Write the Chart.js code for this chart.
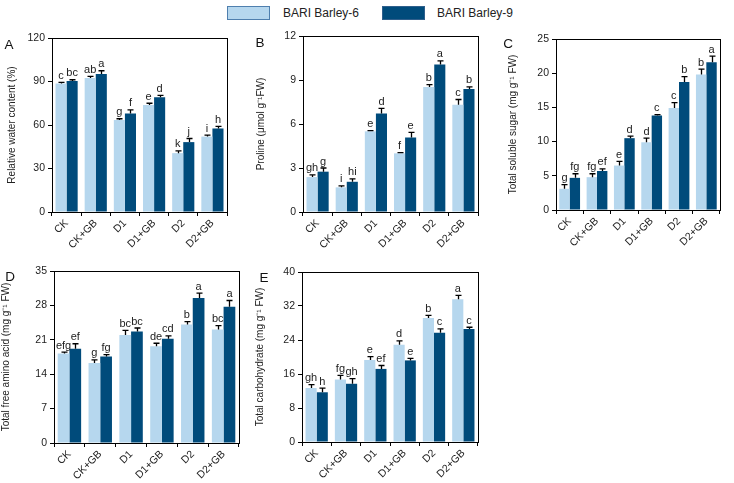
<!DOCTYPE html>
<html>
<head>
<meta charset="utf-8">
<script src="https://cdn.jsdelivr.net/npm/chart.js@4.4.1/dist/chart.umd.min.js"></script>
<style>
  body { margin: 0; background: #fff; width: 734px; height: 483px; position: relative; overflow: hidden;
         font-family: "Liberation Sans", Arial, sans-serif; }
  .panel { position: absolute; }
  .lgbox { position: absolute; height: 14px; width: 43px; box-sizing: border-box; }
  .lgtxt { position: absolute; font-size: 12px; color: #222; line-height: 14px; }
</style>
</head>
<body>

<div class="lgbox" style="left:227px; top:6px; background:#b6d7ee; border:1px solid #4f7fae;"></div>
<div class="lgtxt" style="left:283px; top:6px;">BARI Barley-6</div>
<div class="lgbox" style="left:382px; top:6px; background:#004b7b; border:1px solid #2f5f8c;"></div>
<div class="lgtxt" style="left:437px; top:6px;">BARI Barley-9</div>

<canvas id="cA" class="panel"></canvas>
<canvas id="cB" class="panel"></canvas>
<canvas id="cC" class="panel"></canvas>
<canvas id="cD" class="panel"></canvas>
<canvas id="cE" class="panel"></canvas>

<script>
// treatments and cultivars
const groups = ['CK', 'CK+GB', 'D1', 'D1+GB', 'D2', 'D2+GB'];
const cultivars = ['BARI Barley-6', 'BARI Barley-9'];

// A relative water content (%)
const rwcB6 = [88.6, 92.4, 63.5, 73.8, 40.6, 52.0];
const rwcB9 = [90.4, 95.2, 68.0, 79.2, 48.2, 57.6];
const rwcErrB6 = [0.8, 1.2, 0.8, 1.2, 1.5, 1.0];
const rwcErrB9 = [0.8, 2.2, 2.5, 1.2, 2.5, 1.5];
const rwcLetB6 = ['c', 'ab', 'g', 'e', 'k', 'i'];
const rwcLetB9 = ['bc', 'a', 'f', 'd', 'j', 'h'];

// B proline
const proB6 = [2.38, 1.68, 5.5, 4.0, 8.53, 7.32];
const proB9 = [2.75, 2.06, 6.72, 5.08, 10.05, 8.38];
const proErrB6 = [0.15, 0.1, 0.05, 0.05, 0.15, 0.35];
const proErrB9 = [0.25, 0.2, 0.35, 0.35, 0.25, 0.15];
const proLetB6 = ['gh', 'i', 'e', 'f', 'b', 'c'];
const proLetB9 = ['g', 'hi', 'd', 'e', 'a', 'b'];

// C total soluble sugar
const sugB6 = [3.1, 4.8, 6.5, 9.9, 14.9, 19.8];
const sugB9 = [4.7, 5.7, 10.5, 13.8, 18.7, 21.6];
const sugErrB6 = [0.6, 0.5, 0.6, 0.6, 0.8, 0.8];
const sugErrB9 = [0.6, 0.3, 0.3, 0.15, 0.8, 0.9];
const sugLetB6 = ['g', 'fg', 'e', 'd', 'c', 'b'];
const sugLetB9 = ['fg', 'ef', 'd', 'c', 'b', 'a'];

// D total free amino acid
const amiB6 = [18.2, 16.3, 22.0, 19.7, 24.1, 23.1];
const amiB9 = [19.2, 17.6, 22.7, 21.2, 29.5, 27.7];
const amiErrB6 = [0.3, 0.6, 0.9, 0.6, 0.6, 0.8];
const amiErrB9 = [1.0, 0.4, 0.7, 0.6, 1.0, 1.3];
const amiLetB6 = ['efg', 'g', 'bc', 'de', 'b', 'bc'];
const amiLetB9 = ['ef', 'fg', 'bc', 'cd', 'a', 'a'];

// E total carbohydrate
const carB6 = [12.7, 14.7, 19.3, 22.9, 29.2, 33.6];
const carB9 = [11.7, 13.7, 17.2, 19.2, 25.7, 26.6];
const carErrB6 = [0.8, 1.0, 0.8, 0.9, 0.6, 0.9];
const carErrB9 = [1.0, 1.2, 0.8, 0.5, 0.9, 0.4];
const carLetB6 = ['gh', 'fg', 'e', 'd', 'b', 'a'];
const carLetB9 = ['h', 'gh', 'ef', 'e', 'c', 'c'];

// y axis ranges [max, step]
const yMaxes = [120, 12, 25, 35, 40];
const ySteps = [30, 3, 5, 7, 8];

const lightBlue = '#b6d7ee';
const darkBlue = '#004b7b';

Chart.defaults.font.family = '"Liberation Sans", Arial, sans-serif';
Chart.defaults.font.size = 10.5;
Chart.defaults.color = '#222';

const extras = {
  id: 'extras',
  afterDatasetsDraw(chart, args, opts) {
    const ctx = chart.ctx;
    const ca = chart.chartArea;
    const ys = chart.scales.y;
    ctx.save();
    chart.data.datasets.forEach((ds, i) => {
      const meta = chart.getDatasetMeta(i);
      meta.data.forEach((bar, j) => {
        const top = ys.getPixelForValue(ds.data[j] + ds.errors[j]);
        const x = Math.round(bar.x) + 0.5;
        ctx.strokeStyle = '#000';
        ctx.lineWidth = 1.3;
        ctx.beginPath();
        ctx.moveTo(x, bar.y);
        ctx.lineTo(x, top);
        ctx.moveTo(x - 3, top);
        ctx.lineTo(x + 3, top);
        ctx.stroke();
        ctx.fillStyle = '#222';
        ctx.font = '11px "Liberation Sans", Arial, sans-serif';
        ctx.textAlign = 'center';
        ctx.textBaseline = 'bottom';
        ctx.fillText(ds.letters[j], bar.x, top - 1);
      });
    });
    // frame
    ctx.strokeStyle = '#000';
    ctx.lineWidth = 1;
    ctx.strokeRect(Math.round(ca.left) + 0.5, Math.round(ca.top) + 0.5,
                   Math.round(ca.right - ca.left), Math.round(ca.bottom - ca.top));
    // panel letter
    ctx.fillStyle = '#111';
    ctx.font = '13.5px "Liberation Sans", Arial, sans-serif';
    ctx.textAlign = 'center';
    ctx.textBaseline = 'middle';
    ctx.fillText(opts.letter, opts.lx, opts.ly);
    ctx.restore();
  }
};

function makePanel(id, box, plot, k, title, titlePad, letter, letterPos, b6, b9, e6, e9, l6, l9) {
  const cv = document.getElementById(id);
  cv.width = box.w; cv.height = box.h;
  cv.style.left = box.left + 'px';
  cv.style.top = box.top + 'px';
  const yW = plot.x1 - box.left;
  const xH = box.top + box.h - plot.y2;
  new Chart(cv, {
    type: 'bar',
    data: {
      labels: groups,
      datasets: [
        { label: cultivars[0], data: b6, errors: e6, letters: l6, backgroundColor: lightBlue,
          categoryPercentage: 0.76, barPercentage: 1.0 },
        { label: cultivars[1], data: b9, errors: e9, letters: l9, backgroundColor: darkBlue,
          categoryPercentage: 0.76, barPercentage: 1.0 }
      ]
    },
    plugins: [extras],
    options: {
      responsive: false,
      animation: false,
      layout: { padding: { top: plot.y1 - box.top, right: box.left + box.w - plot.x2, left: 0, bottom: 0 } },
      plugins: {
        legend: { display: false },
        tooltip: { enabled: false },
        extras: { letter: letter, lx: letterPos[0] - box.left, ly: letterPos[1] - box.top }
      },
      scales: {
        x: {
          afterFit(s) { s.height = xH; },
          border: { color: '#000', width: 1 },
          grid: { offset: true, drawOnChartArea: false, drawTicks: true, tickLength: 4, color: '#000' },
          ticks: { minRotation: 45, maxRotation: 45, padding: 1, color: '#222', font: { size: 10.5 } }
        },
        y: {
          min: 0, max: yMaxes[k],
          afterFit(s) { s.width = yW; },
          border: { color: '#000', width: 1 },
          grid: { drawOnChartArea: false, drawTicks: true, tickLength: 4, color: '#000' },
          ticks: { stepSize: ySteps[k], padding: 3, color: '#222', font: { size: 10.5 } },
          title: { display: true, text: title, color: '#222', font: { size: 10 },
                   padding: { top: titlePad, bottom: 0 } }
        }
      }
    }
  });
}

makePanel('cA', { left: 0, top: 28, w: 236, h: 224 }, { x1: 52, y1: 38, x2: 227, y2: 212 }, 0,
  'Relative water content (%)', 6, 'A', [9, 45], rwcB6, rwcB9, rwcErrB6, rwcErrB9, rwcLetB6, rwcLetB9);
makePanel('cB', { left: 249, top: 26, w: 237, h: 226 }, { x1: 303, y1: 36, x2: 478, y2: 212 }, 1,
  'Proline (\u03bcmol g\u207b\u00b9FW)', 6.7, 'B', [260, 43], proB6, proB9, proErrB6, proErrB9, proLetB6, proLetB9);
makePanel('cC', { left: 500, top: 28, w: 234, h: 224 }, { x1: 556, y1: 39, x2: 720, y2: 210 }, 2,
  'Total soluble sugar (mg g\u207b\u00b9 FW)', 7, 'C', [508, 44], sugB6, sugB9, sugErrB6, sugErrB9, sugLetB6, sugLetB9);
makePanel('cD', { left: 0, top: 258, w: 247, h: 225 }, { x1: 54, y1: 271, x2: 239, y2: 443 }, 3,
  'Total free amino acid (mg g\u207b\u00b9 FW)', 0.7, 'D', [10, 277], amiB6, amiB9, amiErrB6, amiErrB9, amiLetB6, amiLetB9);
makePanel('cE', { left: 248, top: 258, w: 238, h: 225 }, { x1: 302, y1: 272, x2: 478, y2: 442 }, 4,
  'Total carbohydrate (mg g\u207b\u00b9 FW)', 6.7, 'E', [264, 278], carB6, carB9, carErrB6, carErrB9, carLetB6, carLetB9);
</script>
</body>
</html>
